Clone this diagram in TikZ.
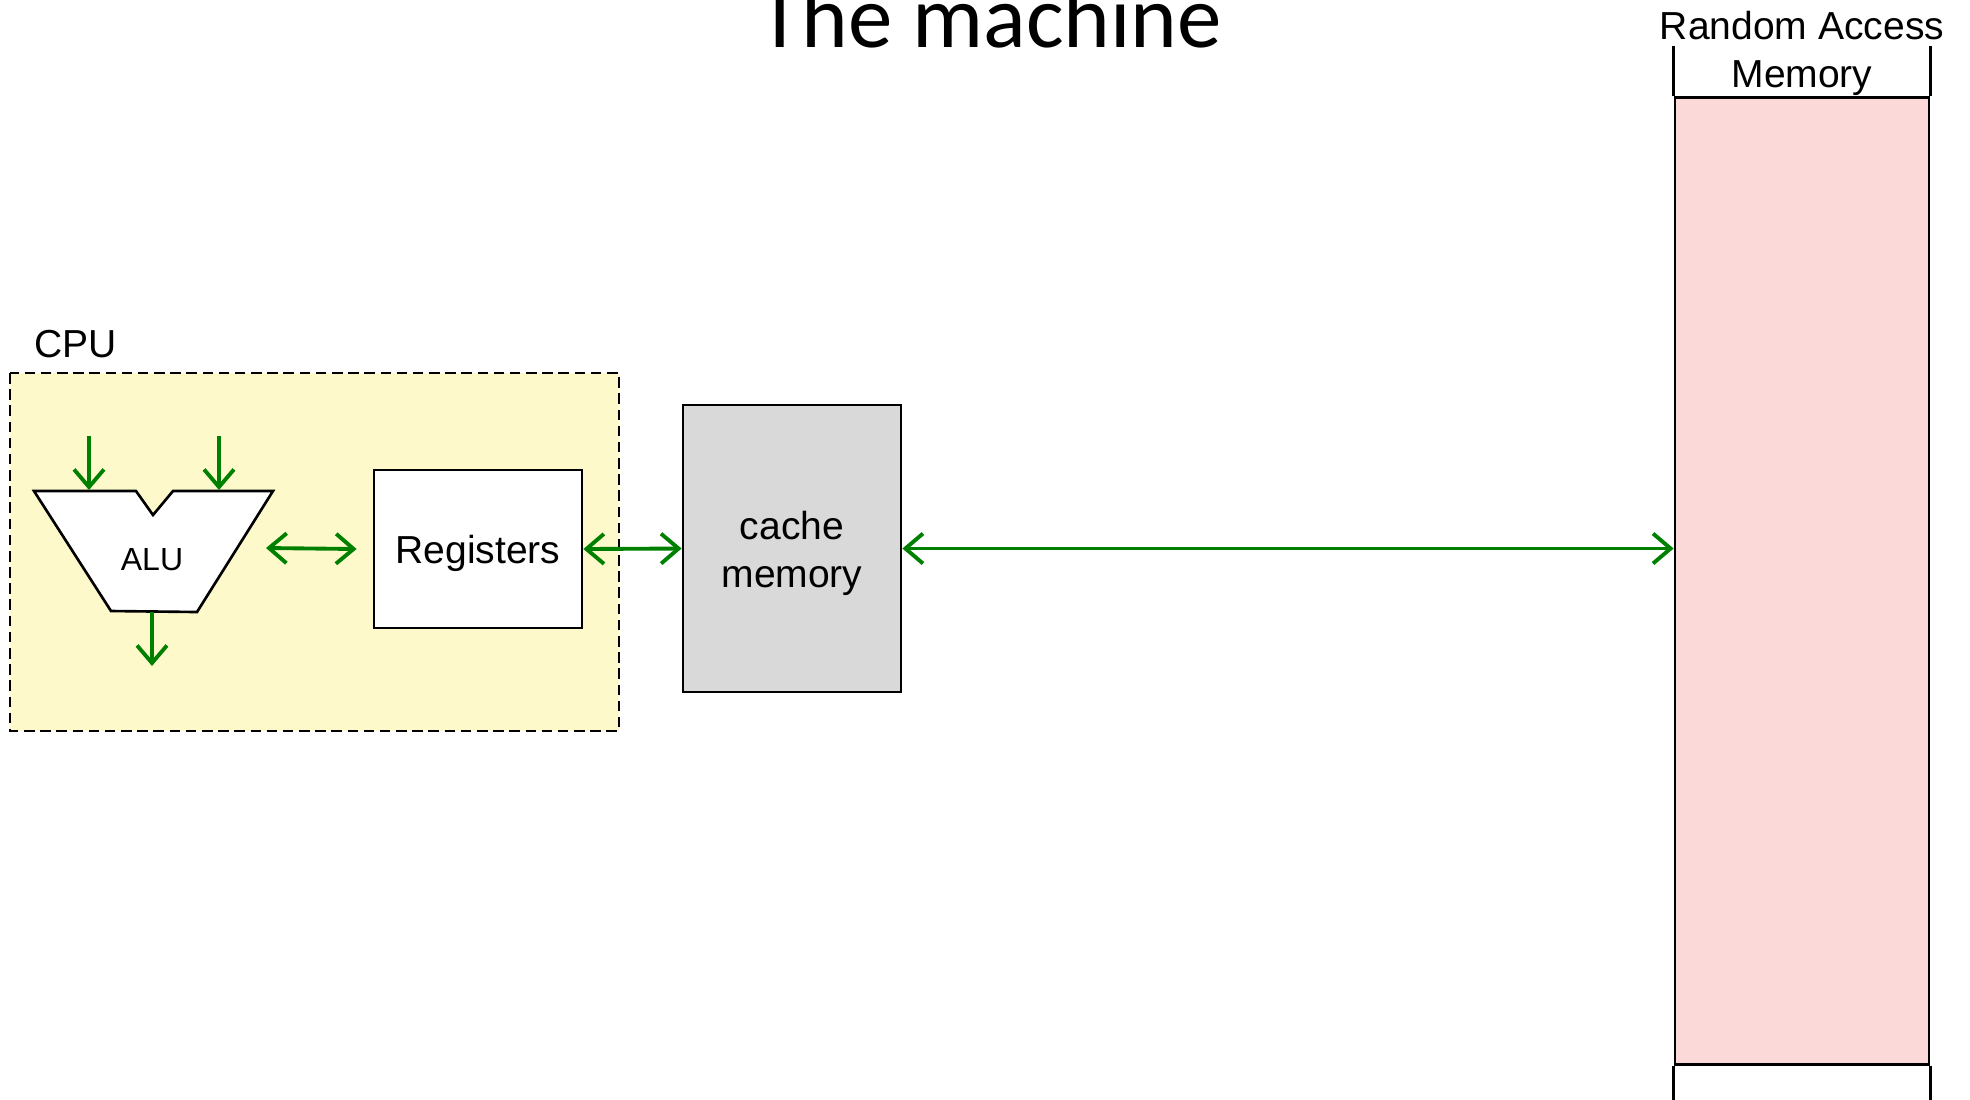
\documentclass[tikz,border=0pt]{standalone}
\usepackage{fontspec}
\setmainfont{Liberation Sans}
\newfontfamily\headfont{Carlito}
\usepackage{tikz}
\usetikzlibrary{positioning, arrows.meta, calc}
\definecolor{BusGreen}{HTML}{008000}
\definecolor{CpuYellow}{HTML}{FDF9CB}
\definecolor{CacheGray}{HTML}{D9D9D9}
\definecolor{RamPink}{HTML}{FCD9D9}

\begin{document}
\begin{tikzpicture}[
    x=0.01cm, y=-0.01cm,
    bus/.style={draw=BusGreen, line width=1.1pt, {Straight Barb[length=5pt,width=8.5pt]}-{Straight Barb[length=5pt,width=8.5pt]}},
    feed/.style={draw=BusGreen, line width=1.1pt, -{Straight Barb[length=5pt,width=8.5pt]}},
    block/.style={draw, line width=0.75pt, inner sep=0pt, align=center, font=\fontsize{11.1}{13.7}\selectfont},
    label/.style={inner sep=0pt, align=center, font=\fontsize{11.1}{13.7}\selectfont}
]
  \useasboundingbox (0,0) rectangle (1970,1099);

  % Title
  \node[anchor=base, inner sep=0pt, font=\headfont\fontsize{25.3}{30}\selectfont] (title) at (990,47) {The machine};

  % CPU area
  \draw[fill=CpuYellow, dash pattern=on 3pt off 1.6pt, line width=0.75pt] (10,373) rectangle (619,731);
  \node[label, anchor=base west] (cpu) at (34,357) {CPU};

  % ALU outline
  \draw[fill=white, line width=0.75pt] (34,491) -- (136,491) -- (153,515) -- (173,491) -- (273,491)
    -- (197,612) -- (111,611) -- cycle;
  \node[inner sep=0pt, font=\fontsize{9.1}{11}\selectfont] (alu) at (152,560) {ALU};
  \coordinate (in-a) at (89,436);   \coordinate (in-a-end) at (89,490);
  \coordinate (in-b) at (219,436);  \coordinate (in-b-end) at (219,490);
  \coordinate (out-a) at (152,612); \coordinate (out-a-end) at (152,666);
  \coordinate (alu-port) at (266,548);
  \draw[feed] (in-a) -- (in-a-end);
  \draw[feed] (in-b) -- (in-b-end);
  \draw[feed] (out-a) -- (out-a-end);

  % Registers and cache
  \node[block, fill=white, minimum width=2.08cm, minimum height=1.58cm] (regs) at (478,549) {};
  \node[label] (regtext) at (478,553) {Registers};
  \node[block, fill=CacheGray, minimum width=2.18cm, minimum height=2.87cm] (cache) at (792,548.5) {};
  \node[label] (cachetext) at (792,553) {cache\\memory};

  % Main memory column
  \node[draw, fill=RamPink, line width=0.75pt, minimum width=2.54cm, minimum height=9.66cm, inner sep=0pt] (ram) at (1802,581) {};
  \draw[line width=0.75pt] (ram.north west) -- ++(0,-50);
  \draw[line width=0.75pt] (ram.north east) -- ++(0,-50);
  \draw[line width=0.75pt] (ram.south west) -- ++(0,40);
  \draw[line width=0.75pt] (ram.south east) -- ++(0,40);
  \node[label] (ramtitle) at (1802,53) {Random Access\\Memory};

  % Buses
  \draw[bus] (alu-port) -- ([xshift=-0.16cm]regs.west);
  \draw[bus] (regs.east) -- (cache.west);
  \draw[bus] (cache.east) -- (cache.east -| ram.west);
\end{tikzpicture}
\end{document}
